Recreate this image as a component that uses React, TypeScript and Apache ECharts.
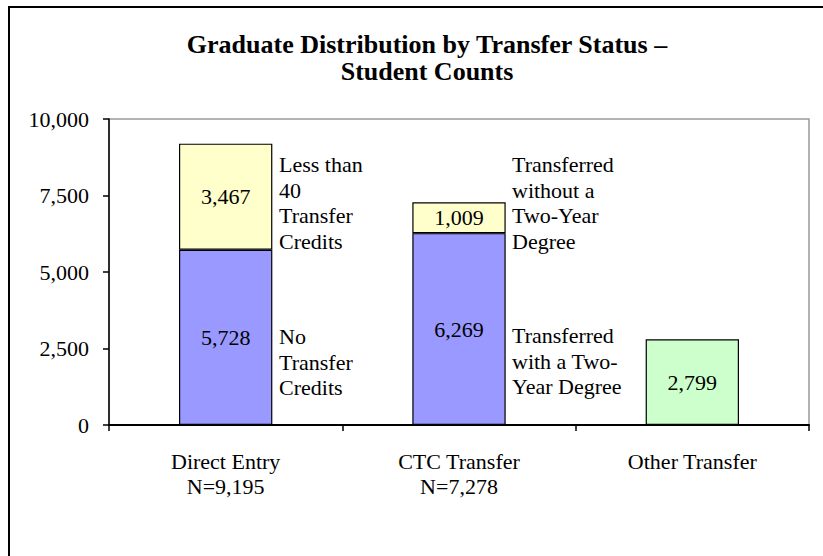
import React, { useEffect, useRef } from "react";
import * as echarts from "echarts";

const titleLines = ["Graduate Distribution by Transfer Status –", "Student Counts"];
const categories = ["Direct Entry\nN=9,195", "CTC Transfer\nN=7,278", "Other Transfer"];
const lowerValues: (number | string)[] = [5728, 6269, "-"];
const upperValues: (number | string)[] = [3467, 1009, "-"];
const otherValues: (number | string)[] = ["-", "-", 2799];
const yMin = 0;
const yMax = 10000;
const yInterval = 2500;
const annotations = [
  { text: "Less than\n40\nTransfer\nCredits", x: 279, y: 152 },
  { text: "No\nTransfer\nCredits", x: 279, y: 324 },
  { text: "Transferred\nwithout a\nTwo-Year\nDegree", x: 512, y: 152 },
  { text: "Transferred\nwith a Two-\nYear Degree", x: 512, y: 323 },
];

const FONT = "Liberation Serif";
const FS = 22;

export default function App() {
  const ref = useRef<HTMLDivElement>(null);
  useEffect(() => {
    if (!ref.current) return;
    const chart = echarts.init(ref.current, null, { renderer: "svg" });
    const fmt = (v: number) => Number(v).toLocaleString("en-US");
    const barLabel = {
      show: true,
      position: "inside",
      color: "#000",
      fontFamily: FONT,
      fontSize: FS,
      formatter: (p: any) => fmt(p.value),
    };
    const itemStyle = (color: string) => ({ color, borderColor: "#000", borderWidth: 1.2 });
    chart.setOption({
      animation: false,
      backgroundColor: "#fff",
      title: titleLines.map((t, i) => ({
        text: t,
        left: 427,
        top: 31 + i * 27,
        textAlign: "center",
        padding: 0,
        textStyle: {
          fontFamily: FONT,
          fontWeight: "bold",
          fontSize: 26,
          lineHeight: 26,
          color: "#000",
        },
      })),
      grid: {
        left: 109,
        top: 119,
        right: 14,
        bottom: 131,
        show: true,
        borderColor: "#999",
        borderWidth: 1.5,
        backgroundColor: "#fff",
      },
      xAxis: {
        type: "category",
        data: categories,
        axisLine: { lineStyle: { color: "#000", width: 2 } },
        axisTick: { show: true, length: 6, lineStyle: { color: "#000", width: 1.5 } },
        axisLabel: {
          color: "#000",
          fontFamily: FONT,
          fontSize: FS,
          lineHeight: 25,
          margin: 24,
        },
      },
      yAxis: {
        type: "value",
        min: yMin,
        max: yMax,
        interval: yInterval,
        splitLine: { show: false },
        axisLine: { show: true, lineStyle: { color: "#000", width: 1.5 } },
        axisTick: { show: true, length: 6, lineStyle: { color: "#000", width: 1.5 } },
        axisLabel: {
          color: "#000",
          fontFamily: FONT,
          fontSize: FS,
          margin: 20,
          formatter: (v: number) => fmt(v),
        },
      },
      series: [
        {
          name: "Lower",
          type: "bar",
          stack: "total",
          barWidth: "40%",
          data: lowerValues,
          itemStyle: itemStyle("#9999FF"),
          label: barLabel,
        },
        {
          name: "Upper",
          type: "bar",
          stack: "total",
          barWidth: "40%",
          data: upperValues,
          itemStyle: itemStyle("#FFFFCC"),
          label: barLabel,
        },
        {
          name: "Other",
          type: "bar",
          stack: "total",
          barWidth: "40%",
          data: otherValues,
          itemStyle: itemStyle("#CCFFCC"),
          label: barLabel,
        },
      ],
      graphic: [
        {
          type: "rect",
          shape: { x: 9, y: 7, width: 830, height: 570 },
          style: { fill: "none", stroke: "#000", lineWidth: 2 },
          silent: true,
          z: 100,
        },
        ...annotations.map((a) => ({
          type: "text",
          x: a.x,
          y: a.y,
          style: {
            text: a.text,
            fill: "#000",
            fontFamily: FONT,
            fontSize: FS,
            lineHeight: 25.5,
            align: "left",
            verticalAlign: "top",
          },
          z: 100,
        })),
      ],
    });
    return () => chart.dispose();
  }, []);
  return (
    <div
      ref={ref}
      style={{ position: "fixed", left: 0, top: 0, width: 823, height: 556 }}
    />
  );
}
